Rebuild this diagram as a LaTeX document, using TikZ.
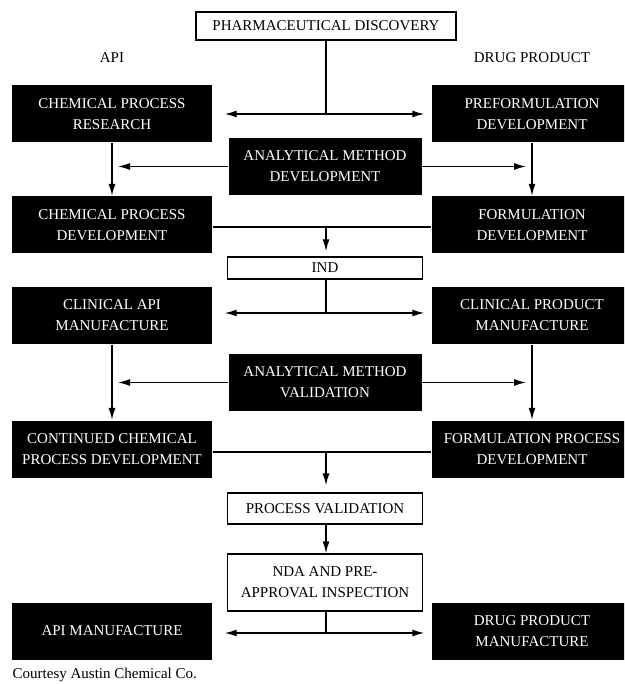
\documentclass[tikz,border=0pt]{standalone}
\usepackage{fontspec}
\setmainfont{Liberation Serif}
\usetikzlibrary{positioning, arrows.meta}

\begin{document}
\begin{tikzpicture}[x=1pt, y=-1pt, line width=1.4pt,
    font=\fontsize{15}{21}\selectfont,
    dark/.style={fill=black, text=white, minimum width=200pt,
      minimum height=57pt, align=center, inner sep=0pt},
    light/.style={draw=black, fill=white, minimum width=195pt,
      align=center, inner sep=0pt},
    arr/.style={-{Latex[length=12pt, width=7pt]}}]
    \useasboundingbox (0,0) rectangle (624,684);
    \clip (0,0) rectangle (624,684);
    \def\lx{112}
    \def\rx{532}
    \def\cx{325}

    % top of the flow
    \node[light, minimum width=260pt, minimum height=28pt] (disc) at (326,26) {PHARMACEUTICAL DISCOVERY};
    \node (api) at (\lx,58) {API};
    \node (dp) at (\rx,58) {DRUG PRODUCT};

    % API side
    \node[dark] (res) at (\lx,114) {CHEMICAL PROCESS\\RESEARCH};
    \node[dark] (cpd) at (\lx,225) {CHEMICAL PROCESS\\DEVELOPMENT};
    \node[dark] (cam) at (\lx,315.5) {CLINICAL API\\MANUFACTURE};
    \node[dark] (ccpd) at (\lx,449) {CONTINUED CHEMICAL\\PROCESS DEVELOPMENT};
    \node[dark] (apim) at (\lx,631) {API MANUFACTURE};

    % drug product side
    \node[dark] (pre) at (\rx,114) {PREFORMULATION\\DEVELOPMENT};
    \node[dark] (fd) at (\rx,225) {FORMULATION\\DEVELOPMENT};
    \node[dark] (cpm) at (\rx,315.5) {CLINICAL PRODUCT\\MANUFACTURE};
    \node[dark] (fpd) at (\rx,449) {FORMULATION PROCESS\\DEVELOPMENT};
    \node[dark] (dpm) at (\rx,631) {DRUG PRODUCT\\MANUFACTURE};

    % middle column
    \node[dark, minimum width=193pt] (amd) at (\cx,166.5) {ANALYTICAL METHOD\\DEVELOPMENT};
    \node[light, minimum height=22pt] (ind) at (\cx,268) {IND};
    \node[dark, minimum width=193pt] (amv) at (\cx,382.5) {ANALYTICAL METHOD\\VALIDATION};
    \node[light, minimum height=31pt] (pv) at (\cx,508.5) {PROCESS VALIDATION};
    \node[light, minimum height=57pt] (nda) at (\cx,582.5) {NDA AND PRE-\\APPROVAL INSPECTION};

    \node[anchor=west, inner sep=0pt] (src) at (12,675) {Courtesy Austin Chemical Co.};

    % connectors
    \coordinate (t1) at (disc.south |- res.east);
    \draw (disc.south) -- (t1);
    \draw[arr, shorten >=12pt] (t1) -- (res.east);
    \draw[arr, shorten >=7pt] (t1) -- (pre.west);

    \draw[arr, shorten >=6pt] (amd.west) -- (amd.west -| res.south);
    \draw[arr, shorten >=6pt] (amd.east) -- (amd.east -| pre.south);
    \draw[arr] (res.south) -- (cpd.north);
    \draw[arr] (pre.south) -- (fd.north);

    \coordinate (t2) at (disc.south |- 0,227);
    \draw (cpd.east |- t2) -- (fd.west |- t2);
    \draw[arr, shorten >=5pt] (t2) -- (t2 |- ind.north);

    \coordinate (t3) at (disc.south |- 0,313);
    \draw (t3 |- ind.south) -- (t3);
    \draw[arr, shorten >=12pt] (t3) -- (t3 -| cam.east);
    \draw[arr, shorten >=7pt] (t3) -- (t3 -| cpm.west);

    \draw[arr, shorten >=6pt] (amv.west) -- (amv.west -| cam.south);
    \draw[arr, shorten >=6pt] (amv.east) -- (amv.east -| cpm.south);
    \draw[arr] (cam.south) -- (ccpd.north);
    \draw[arr] (cpm.south) -- (fpd.north);

    \coordinate (t4) at (disc.south |- 0,452);
    \draw (ccpd.east |- t4) -- (fpd.west |- t4);
    \draw[arr, shorten >=7pt] (t4) -- (t4 |- pv.north);
    \draw[arr] (t4 |- pv.south) -- (t4 |- nda.north);

    \coordinate (t5) at (disc.south |- 0,633);
    \draw (t5 |- nda.south) -- (t5);
    \draw[arr, shorten >=12pt] (t5) -- (t5 -| apim.east);
    \draw[arr, shorten >=7pt] (t5) -- (t5 -| dpm.west);
\end{tikzpicture}
\end{document}
